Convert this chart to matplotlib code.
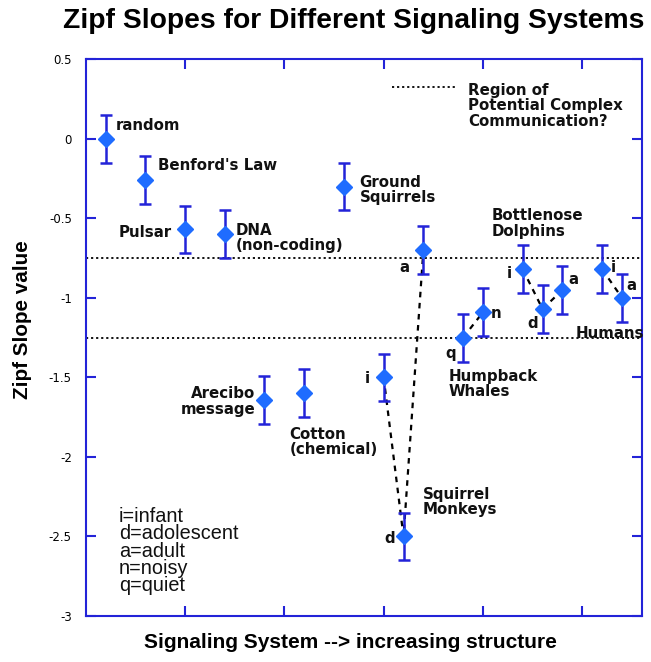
import matplotlib
matplotlib.use("Agg")
import matplotlib.pyplot as plt

# ---- data ----
systems = ["random", "Benford's Law", "Pulsar", "DNA (non-coding)", "Arecibo message",
           "Cotton (chemical)", "Ground Squirrels",
           "Squirrel Monkeys i", "Squirrel Monkeys d", "Squirrel Monkeys a",
           "Humpback Whales q", "Humpback Whales n",
           "Bottlenose Dolphins i", "Bottlenose Dolphins d", "Bottlenose Dolphins a",
           "Humans i", "Humans a"]
x_pos = [0.2, 0.6, 1.0, 1.4, 1.8, 2.2, 2.6, 3.0, 3.2, 3.4, 3.8, 4.0, 4.4, 4.6, 4.8, 5.2, 5.4]
slopes = [0.0, -0.26, -0.57, -0.60, -1.64, -1.60, -0.30, -1.50, -2.50, -0.70,
          -1.25, -1.09, -0.82, -1.07, -0.95, -0.82, -1.00]
errors = [0.15] * 17
# connected developmental groups (indices into the arrays)
groups = [[7, 8, 9], [10, 11], [12, 13, 14], [15, 16]]
region_bounds = [-0.75, -1.25]
y_ticks = [0.5, 0, -0.5, -1, -1.5, -2, -2.5, -3]
y_ticklabels = ["0.5", "0", "-0.5", "-1", "-1.5", "-2", "-2.5", "-3"]
x_ticks = [1, 2, 3, 4, 5]

BLUE = "#2323d8"
MARK = "#1f6cff"
ANN = dict(fontsize=10.8, fontweight="bold", family="DejaVu Sans", color="#111111")

fig = plt.figure(figsize=(6.51, 6.62), dpi=100)
ax = fig.add_axes([0.1316, 0.0695, 0.8544, 0.8409])
ax.set_xlim(0, 5.6)
ax.set_ylim(-3, 0.5)

for yb in region_bounds:
    ax.axhline(yb, color="black", linestyle=(0, (1.2, 1.6)), linewidth=1.3, zorder=1)

for g in groups:
    ax.plot([x_pos[i] for i in g], [slopes[i] for i in g], color="black",
            linestyle=(0, (2.5, 2.5)), linewidth=1.6, zorder=2)

ax.errorbar(x_pos, slopes, yerr=errors, fmt="D", color=MARK, ecolor=BLUE,
            elinewidth=1.8, capsize=4, capthick=1.8, markersize=8,
            markeredgecolor=MARK, zorder=3)

# legend line for region
ax.plot([3.087, 3.731], [0.328, 0.328], color="black", linestyle=(0, (1.2, 1.6)),
        linewidth=1.3)
ax.text(3.852, 0.208, "Region of\nPotential Complex\nCommunication?", ha="left",
        va="center", linespacing=1.05, **ANN)

labels = [
    (0.305, 0.087, "random", "left"),
    (0.727, -0.165, "Benford's Law", "left"),
    (0.867, -0.592, "Pulsar", "right"),
    (1.51, -0.623, "DNA\n(non-coding)", "left"),
    (1.71, -1.651, "Arecibo\nmessage", "right"),
    (2.053, -1.906, "Cotton\n(chemical)", "left"),
    (2.757, -0.322, "Ground\nSquirrels", "left"),
    (4.083, -0.532, "Bottlenose\nDolphins", "left"),
    (4.93, -1.221, "Humans", "left"),
    (3.651, -1.541, "Humpback\nWhales", "left"),
    (3.39, -2.283, "Squirrel\nMonkeys", "left"),
    (3.209, -0.806, "a", "center"),
    (4.264, -0.844, "i", "center"),
    (4.496, -1.158, "d", "center"),
    (4.907, -0.882, "a", "center"),
    (5.31, -0.812, "i", "center"),
    (5.49, -0.919, "a", "center"),
    (4.134, -1.095, "n", "center"),
    (3.672, -1.347, "q", "center"),
    (2.837, -1.504, "i", "center"),
    (3.058, -2.51, "d", "center"),
]
for lx, ly, txt, ha in labels:
    ax.text(lx, ly, txt, ha=ha, va="center", linespacing=1.05, **ANN)

ax.text(0.335, -2.315, "i=infant\nd=adolescent\na=adult\nn=noisy\nq=quiet",
        ha="left", va="top", fontsize=14.3, family="Liberation Sans",
        linespacing=0.89, color="#111111")

ax.set_yticks(y_ticks)
ax.set_yticklabels(y_ticklabels)
ax.set_xticks(x_ticks)
ax.set_xticklabels([])
ax.tick_params(axis="both", direction="in", length=7, width=1.5, color=BLUE,
               top=True, right=True, labelsize=8.5, pad=10)
for s in ax.spines.values():
    s.set_color(BLUE)
    s.set_linewidth(1.5)

fig.text(0.543, 0.969, "Zipf Slopes for Different Signaling Systems", ha="center",
         va="center", fontsize=20.3, fontweight="bold", family="Liberation Sans")
fig.text(0.034, 0.517, "Zipf Slope value", rotation=90, ha="center", va="center",
         fontsize=14.9, fontweight="bold", family="Liberation Sans")
fig.text(0.538, 0.029, "Signaling System --> increasing structure", ha="center",
         va="center", fontsize=15, fontweight="bold", family="Liberation Sans")

fig.savefig("out.png", dpi=100, facecolor="white")
